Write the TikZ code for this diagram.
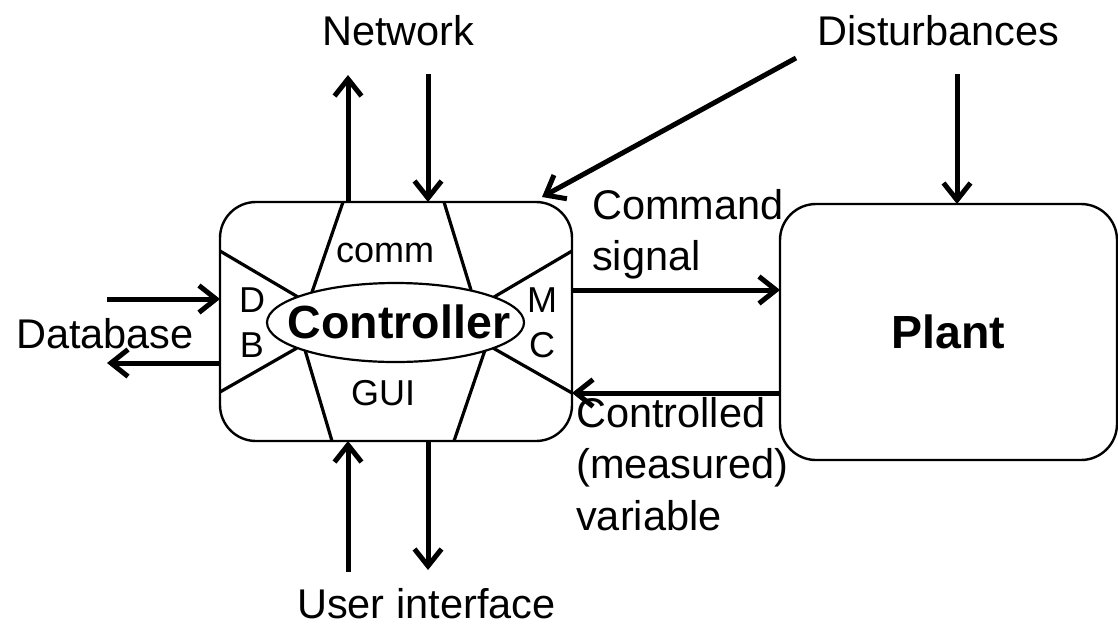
\documentclass[tikz,border=0pt]{standalone}
\usepackage{fontspec}
\setmainfont{Liberation Sans}
\usetikzlibrary{arrows.meta,shapes.geometric}
\begin{document}
\begin{tikzpicture}[x=1pt,y=-1pt,
  arr/.style={line width=5pt,-{Straight Barb[length=17pt,width=27pt]}},
  boxstyle/.style={draw,line width=2.4pt,rounded corners=36pt,inner sep=0pt,outer sep=0pt},
  spoke/.style={line width=3.2pt},
  lbl/.style={font=\fontsize{41.5}{51}\selectfont,inner sep=0pt,anchor=base west},
  small/.style={font=\fontsize{36}{40}\selectfont,inner sep=0pt},
  bold/.style={font=\fontsize{46.5}{50}\selectfont\bfseries,inner sep=0pt}]
\useasboundingbox (0,0) rectangle (1118,625);
% boxes
\node[boxstyle,minimum width=352pt,minimum height=239pt] (ctrl) at (396,321.5) {};
\node[boxstyle,minimum width=337pt,minimum height=256pt] (plant) at (948.5,332) {};
\node[bold] (plantlbl) at (plant.center) {Plant};
% spokes
\draw[spoke] (343,202) -- (310,298);
\draw[spoke] (444,202) -- (471,290);
\draw[spoke] (220,251) -- (298,297);
\draw[spoke] (220,392) -- (297,348);
\draw[spoke] (572,251) -- (494,297);
\draw[spoke] (572,393) -- (493,348);
\draw[spoke] (332,441) -- (305,350);
\draw[spoke] (454,441) -- (485,350);
\node[draw,ellipse,fill=white,line width=2.2pt,minimum width=257pt,minimum height=79pt,inner sep=0pt] (ell) at (395.5,322.5) {};
\node[bold] (ctrllbl) at (399,322) {Controller};
% inner labels
\node[small] (comm) at (385,253) {comm};
\node[small] (gui) at (383,393) {GUI};
\node[small] (d) at (252,300) {D};
\node[small] (b) at (252,345) {B};
\node[small] (m) at (542,300) {M};
\node[small] (c) at (542,345) {C};
% outer labels
\node[lbl] (net) at (322,45) {Network};
\node[lbl] (dist) at (817,45) {Disturbances};
\node[lbl] (ui) at (297,618) {User interface};
\node[lbl] (db) at (16,348) {Database};
\node[lbl] (cmd) at (592,219) {\vtop{\baselineskip=51pt\hbox{Command}\hbox{signal}}};
\node[lbl] (cv) at (576,427) {\vtop{\baselineskip=51.5pt\hbox{Controlled}\hbox{(measured)}\hbox{variable}}};
% arrows
\coordinate (nu) at (348,75);
\coordinate (nd) at (428,74);
\coordinate (uu) at (348,572);
\coordinate (ud) at (428,570);
\draw[arr] (ctrl.north -| nu) -- (nu);
\draw[arr] (nd) -- (ctrl.north -| nd);
\draw[arr] (uu) -- (ctrl.south -| uu);
\draw[arr] (ctrl.south -| ud) -- (ud);
\coordinate (dbi) at (107,299);
\coordinate (dbo) at (107,363);
\draw[arr] (dbi) -- (ctrl.west |- dbi);
\draw[arr] (ctrl.west |- dbo) -- (dbo);
\coordinate (cs) at (0,290);
\coordinate (cm) at (0,393);
\draw[arr] (ctrl.east |- cs) -- (plant.west |- cs);
\draw[arr] (plant.west |- cm) -- (ctrl.east |- cm);
\coordinate (ds) at (796,58);
\coordinate (de) at (542,197);
\draw[arr] (ds) -- (de);
\coordinate (dd) at (957,74);
\draw[arr] (dd) -- (plant.north -| dd);
\end{tikzpicture}
\end{document}
